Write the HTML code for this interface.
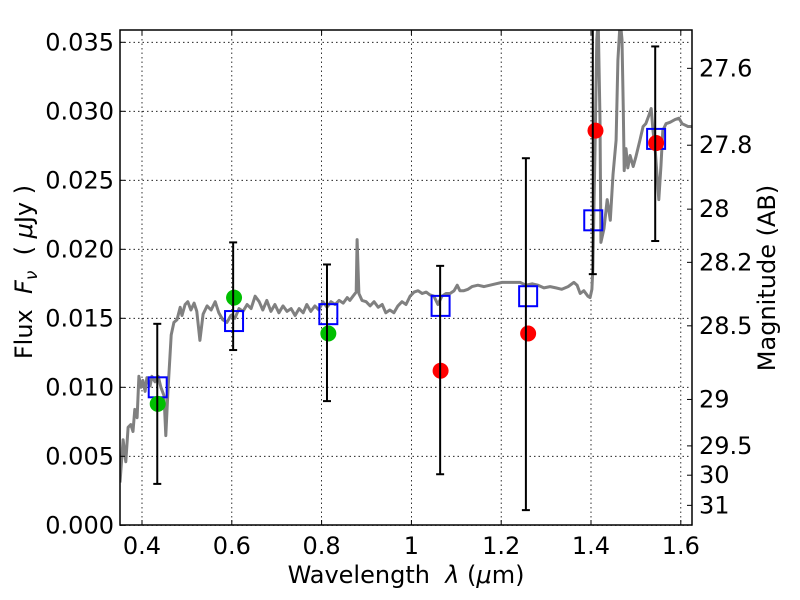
<!DOCTYPE html>
<html><head><meta charset="utf-8"><style>
html,body{margin:0;padding:0;background:#fff;width:800px;height:600px;overflow:hidden}
svg text{font-family:"DejaVu Sans","Liberation Sans",sans-serif;fill:#000}
</style></head><body>
<svg id="chart" width="800" height="600" xmlns="http://www.w3.org/2000/svg">
<rect width="800" height="600" fill="#fff"/>
<defs><clipPath id="clip"><rect x="120" y="30" width="572" height="495"/></clipPath></defs>
<g id="grid"></g>
<g id="plot" clip-path="url(#clip)"></g>
<g id="axes"></g>
<text x="406" y="583" font-size="24" text-anchor="middle">Wavelength&#160;&#160;<tspan font-style="italic">λ</tspan>&#160;(<tspan font-style="italic">μ</tspan>m)</text>
<text transform="translate(32,272) rotate(-90)" font-size="24" text-anchor="middle">Flux&#160;&#160;<tspan font-style="italic">F</tspan><tspan font-style="italic" font-size="17" dy="5">ν</tspan><tspan dy="-5">&#160;&#160;(&#160;</tspan><tspan font-style="italic">μ</tspan>Jy&#160;)</text>
<text transform="translate(775,278) rotate(-90)" font-size="24" text-anchor="middle">Magnitude (AB)</text>
</svg>
<script>
const xTicks=[0.4,0.6,0.8,1.0,1.2,1.4,1.6];
const xTickLabels=["0.4","0.6","0.8","1","1.2","1.4","1.6"];
const yTicks=[0,0.005,0.010,0.015,0.020,0.025,0.030,0.035];
const yTickLabels=["0.000","0.005","0.010","0.015","0.020","0.025","0.030","0.035"];
const magTicks=[27.6,27.8,28,28.2,28.5,29,29.5,30,31];
const magTickLabels=["27.6","27.8","28","28.2","28.5","29","29.5","30","31"];
const specWave=[0.351,0.358,0.364,0.369,0.375,0.380,0.384,0.389,0.393,0.398,0.402,0.407,0.411,0.418,0.422,0.429,0.436,0.442,0.449,0.453,0.458,0.465,0.471,0.478,0.485,0.489,0.496,0.502,0.509,0.516,0.522,0.529,0.536,0.545,0.554,0.563,0.571,0.580,0.589,0.598,0.607,0.616,0.625,0.634,0.643,0.652,0.661,0.669,0.678,0.687,0.696,0.705,0.714,0.723,0.732,0.741,0.750,0.759,0.767,0.776,0.785,0.794,0.803,0.812,0.821,0.830,0.839,0.848,0.857,0.863,0.870,0.877,0.879,0.883,0.890,0.899,0.908,0.917,0.926,0.935,0.943,0.952,0.961,0.970,0.979,0.988,0.997,1.006,1.015,1.024,1.033,1.041,1.050,1.059,1.068,1.077,1.086,1.095,1.102,1.108,1.117,1.126,1.135,1.148,1.162,1.175,1.188,1.202,1.215,1.229,1.242,1.255,1.269,1.282,1.295,1.309,1.322,1.335,1.349,1.362,1.369,1.376,1.384,1.393,1.398,1.402,1.404,1.409,1.413,1.416,1.420,1.422,1.429,1.436,1.443,1.449,1.456,1.460,1.465,1.469,1.472,1.474,1.478,1.482,1.487,1.494,1.500,1.509,1.516,1.522,1.529,1.534,1.538,1.543,1.547,1.551,1.556,1.560,1.567,1.576,1.587,1.596,1.603,1.616,1.625];
const specFlux=[0.0031,0.0062,0.0046,0.0071,0.0073,0.0068,0.0084,0.0078,0.0108,0.0100,0.0105,0.0097,0.0107,0.0101,0.0108,0.0104,0.0108,0.0100,0.0094,0.0065,0.0098,0.0138,0.0147,0.0149,0.0158,0.0152,0.0160,0.0162,0.0156,0.0161,0.0155,0.0134,0.0153,0.0159,0.0156,0.0162,0.0154,0.0149,0.0147,0.0152,0.0150,0.0157,0.0155,0.0160,0.0157,0.0166,0.0162,0.0156,0.0163,0.0155,0.0160,0.0154,0.0159,0.0155,0.0157,0.0152,0.0157,0.0154,0.0160,0.0155,0.0159,0.0156,0.0162,0.0158,0.0162,0.0160,0.0163,0.0161,0.0165,0.0163,0.0166,0.0169,0.0207,0.0168,0.0163,0.0162,0.0159,0.0162,0.0158,0.0160,0.0154,0.0156,0.0154,0.0159,0.0162,0.0160,0.0166,0.0169,0.0170,0.0168,0.0169,0.0167,0.0166,0.0160,0.0166,0.0168,0.0168,0.0170,0.0174,0.0170,0.0170,0.0171,0.0173,0.0174,0.0173,0.0174,0.0175,0.0176,0.0176,0.0176,0.0176,0.0174,0.0175,0.0174,0.0172,0.0173,0.0172,0.0171,0.0173,0.0176,0.0174,0.0168,0.0170,0.0166,0.0165,0.0171,0.0185,0.0272,0.0352,0.0366,0.0294,0.0205,0.0215,0.0236,0.0221,0.0254,0.0279,0.0337,0.0366,0.0352,0.0301,0.0257,0.0273,0.0259,0.0268,0.0260,0.0267,0.0279,0.0289,0.0291,0.0297,0.0302,0.0286,0.0272,0.0254,0.0236,0.0261,0.0286,0.0291,0.0292,0.0294,0.0295,0.0291,0.0289,0.0289];
const modelWave=[0.435,0.605,0.815,1.065,1.26,1.405,1.545];
const modelFlux=[0.0100,0.0148,0.0153,0.0159,0.0166,0.0221,0.0280];
const greenWave=[0.435,0.605,0.815];
const greenFlux=[0.0088,0.0165,0.0139];
const redWave=[1.065,1.26,1.41,1.545];
const redFlux=[0.0112,0.0139,0.0286,0.0277];
const errWave=[0.434,0.603,0.812,1.064,1.255,1.404,1.543];
const errLow=[0.0030,0.0127,0.0090,0.0037,0.0011,0.0182,0.0206];
const errHigh=[0.0146,0.0205,0.0189,0.0188,0.0266,0.0400,0.0347];

const X0=120,X1=692,Y0=30,Y1=525;
function xs(v){return 142+(v-0.4)*449;}
function ys(v){return 525.3-v*13800;}
function magToFlux(m){return Math.pow(10,(23.9-m)/2.5);}
const NS="http://www.w3.org/2000/svg";
function mk(tag,attrs,parent){const e=document.createElementNS(NS,tag);for(const k in attrs)e.setAttribute(k,attrs[k]);parent.appendChild(e);return e;}
const grid=document.getElementById('grid'),plot=document.getElementById('plot'),axes=document.getElementById('axes');

xTicks.forEach((t,i)=>{const x=xs(t);
 const g=mk('line',{x1:x,x2:x,y1:Y0,y2:Y1,stroke:'#000','stroke-width':0.8,'stroke-dasharray':'1.5,3'},grid);
 
 mk('line',{x1:x,x2:x,y1:Y1,y2:Y1-5,stroke:'#000','stroke-width':1},axes);
 mk('line',{x1:x,x2:x,y1:Y0,y2:Y0+5,stroke:'#000','stroke-width':1},axes);
 const tx=mk('text',{x:x,y:554,'font-size':24,'text-anchor':'middle'},axes);tx.textContent=xTickLabels[i];
 
});
yTicks.forEach((t,i)=>{const y=ys(t);
 const g=mk('line',{x1:X0,x2:X1,y1:y,y2:y,stroke:'#000','stroke-width':0.8,'stroke-dasharray':'1.5,3'},grid);
 
 mk('line',{x1:X0,x2:X0+5,y1:y,y2:y,stroke:'#000','stroke-width':1},axes);
 const tx=mk('text',{x:114,y:y+8,'font-size':24,'text-anchor':'end'},axes);tx.textContent=yTickLabels[i];
 
});
magTicks.forEach((m,i)=>{const y=ys(magToFlux(m));
 mk('line',{x1:X1,x2:X1-5,y1:y,y2:y,stroke:'#000','stroke-width':1},axes);
 const tx=mk('text',{x:699,y:y+8,'font-size':24},axes);tx.textContent=magTickLabels[i];
 
});
mk('rect',{x:X0,y:Y0,width:X1-X0,height:Y1-Y0,fill:'none',stroke:'#000','stroke-width':1.5},axes);

let d='';specWave.forEach((w,i)=>{d+=(i?'L':'M')+xs(w).toFixed(1)+','+ys(specFlux[i]).toFixed(1);});
const sp=mk('path',{d:d,fill:'none',stroke:'#808080','stroke-width':3,'stroke-linejoin':'round'},plot);


modelWave.forEach((w,i)=>{const x=xs(w),y=ys(modelFlux[i]);
 const r=mk('rect',{x:x-9,y:y-10,width:18,height:20,fill:'none',stroke:'#0000ff','stroke-width':2},plot);
 
});
greenWave.forEach((w,i)=>{
 const c=mk('circle',{cx:xs(w),cy:ys(greenFlux[i]),r:8,fill:'#00bf00'},plot);
 
});
redWave.forEach((w,i)=>{
 const c=mk('circle',{cx:xs(w),cy:ys(redFlux[i]),r:8,fill:'#ff0000'},plot);
 
});
errWave.forEach((w,i)=>{const x=xs(w),ya=ys(errLow[i]),yb=ys(errHigh[i]);
 const g=mk('g',{},plot);
 
 mk('line',{x1:x,x2:x,y1:ya,y2:yb,stroke:'#000','stroke-width':2},g);
 mk('line',{x1:x-4,x2:x+4,y1:ya,y2:ya,stroke:'#000','stroke-width':2},g);
 mk('line',{x1:x-4,x2:x+4,y1:yb,y2:yb,stroke:'#000','stroke-width':2},g);
});
</script>
</body></html>
